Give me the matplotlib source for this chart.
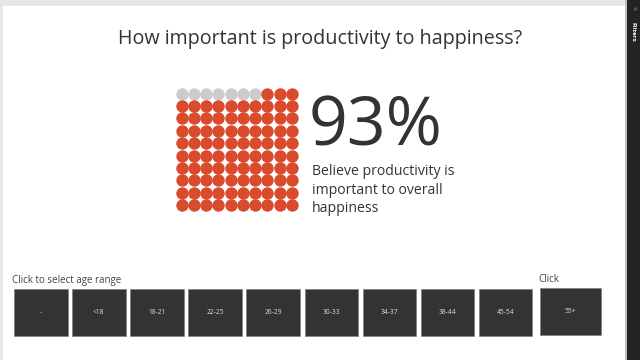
import matplotlib.pyplot as plt
from matplotlib.patches import Rectangle

plt.rcParams['font.family'] = ['Open Sans', 'DejaVu Sans']

# data
title = 'How important is productivity to happiness?'
pct = 93
caption = 'Believe productivity is\nimportant to overall\nhappiness'
age_ranges = ['-', '<18', '18-21', '22-25', '26-29', '30-33', '34-37', '38-44', '45-54']
last_range = '55+'

red = '#DA4A2C'
grey = '#CCCCCC'
dark = '#333333'

fig = plt.figure(figsize=(6.4, 3.6), dpi=100)
ax = fig.add_axes([0, 0, 1, 1])
ax.set_xlim(0, 640)
ax.set_ylim(360, 0)
ax.axis('off')

# page frame
ax.add_patch(Rectangle((0, 0), 627, 6, color='#E6E6E6', lw=0))
ax.add_patch(Rectangle((0, 0), 3, 360, color='#E6E6E6', lw=0))
ax.add_patch(Rectangle((625, 0), 1.5, 360, color='#BDBDBD', lw=0))
ax.add_patch(Rectangle((627, 0), 13, 360, color='#232323', lw=0))
ax.text(633.5, 8, '<', color='#BBBBBB', fontsize=5, ha='center', va='center', rotation=270)
ax.text(633.5, 32, 'Filters', color='white', fontsize=4.5, ha='center', va='center',
        rotation=270, fontweight='bold')

ax.text(320, 39, title, fontsize=14.2, color='#333333', ha='center', va='center')

# waffle, 10x10, empty cells first from the top left
n_empty = 100 - pct
for i in range(100):
    r, c = divmod(i, 10)
    col = grey if i < n_empty else red
    ax.scatter(181.5 + c * 12.25, 93.5 + r * 12.4, s=80, color=col, lw=0)

ax.text(309, 128, f'{pct}%', fontsize=49, color='#333333', ha='left', va='center')
ax.text(312, 190, caption, fontsize=10.1, color='#333333', ha='left', va='center',
        linespacing=1.32)

# slicer
ax.text(12, 280, 'Click to select age range', fontsize=7, color='#444444', ha='left', va='center')
x0 = 14
for i, lab in enumerate(age_ranges):
    x = x0 + i * 58.1
    ax.add_patch(Rectangle((x, 289), 53.5, 47, facecolor=dark, edgecolor='#777777', lw=0.4))
    ax.text(x + 26.75, 312.5, lab, fontsize=4.8, color='#DDDDDD', ha='center', va='center')

ax.text(538, 279, 'Click', fontsize=7, color='#444444', ha='left', va='center')
ax.add_patch(Rectangle((540, 288), 61, 47, facecolor=dark, edgecolor='#777777', lw=0.4))
ax.text(570.5, 311.5, last_range, fontsize=4.8, color='#DDDDDD', ha='center', va='center')

fig.savefig('out.png', dpi=100)
